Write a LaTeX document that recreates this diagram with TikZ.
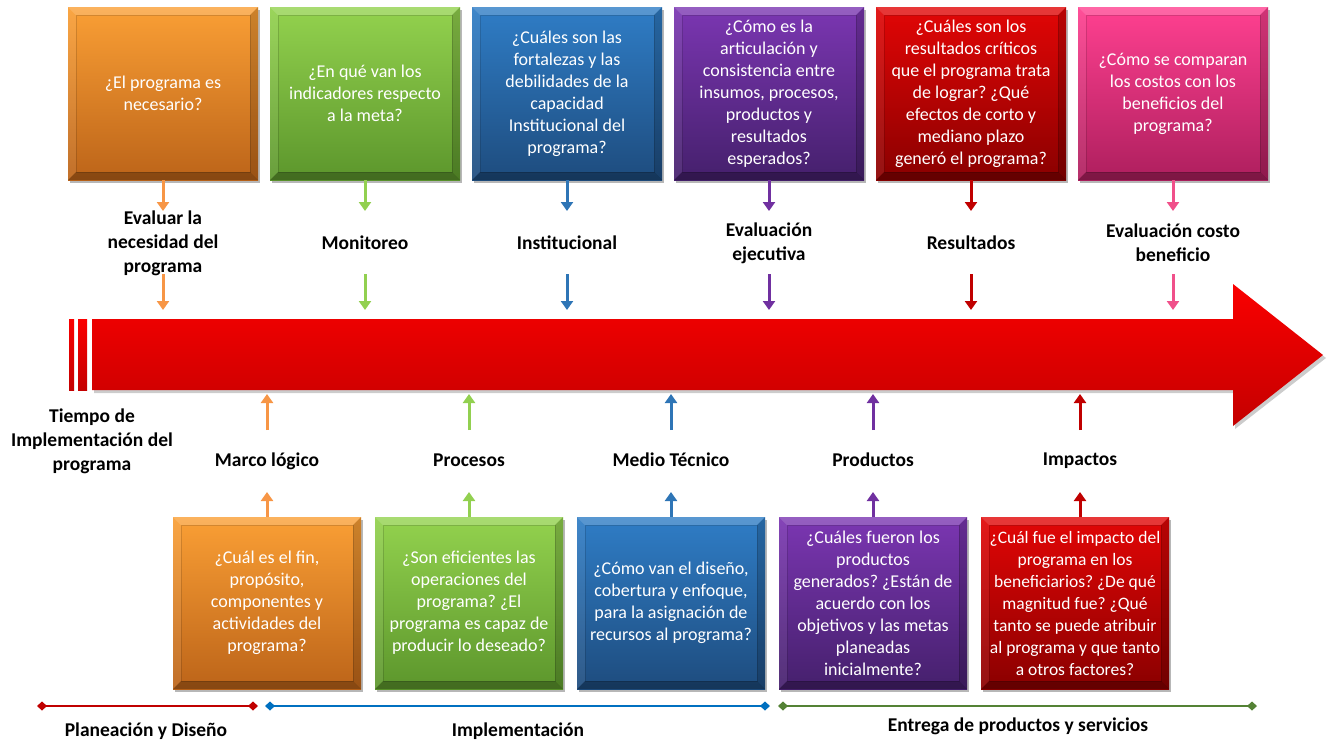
\documentclass[tikz,border=0pt]{standalone}
\usepackage{fontspec}
\setmainfont{Carlito}
\frenchspacing
\usetikzlibrary{arrows.meta,shadows,calc}
\definecolor{orT}{HTML}{FA9F35}\definecolor{orB}{HTML}{BC6419}
\definecolor{grT}{HTML}{93D24E}\definecolor{grB}{HTML}{5C962C}
\definecolor{blT}{HTML}{2F7DC6}\definecolor{blB}{HTML}{1E4C7E}
\definecolor{puT}{HTML}{7B36B2}\definecolor{puB}{HTML}{45206C}
\definecolor{reT}{HTML}{E20606}\definecolor{reB}{HTML}{8A0000}
\definecolor{piT}{HTML}{FF4090}\definecolor{piB}{HTML}{AE1F5E}
\definecolor{orA}{HTML}{F79646}
\definecolor{grA}{HTML}{92D050}
\definecolor{blA}{HTML}{2E75B6}
\definecolor{puA}{HTML}{7030A0}
\definecolor{reA}{HTML}{C00000}
\definecolor{piA}{HTML}{F0508A}
\definecolor{bigT}{HTML}{FA0000}
\definecolor{bigB}{HTML}{C40000}
\definecolor{tlR}{HTML}{C00000}
\definecolor{tlB}{HTML}{0070C0}
\definecolor{tlG}{HTML}{548235}
\tikzset{
  bevel/.style={path picture={
    \fill[white,opacity=0.20] (path picture bounding box.north west) -- (path picture bounding box.north east)
      -- ([shift={(-8pt,-8pt)}]path picture bounding box.north east) -- ([shift={(8pt,-8pt)}]path picture bounding box.north west) -- cycle;
    \fill[white,opacity=0.08] (path picture bounding box.north west) -- (path picture bounding box.south west)
      -- ([shift={(8pt,8pt)}]path picture bounding box.south west) -- ([shift={(8pt,-8pt)}]path picture bounding box.north west) -- cycle;
    \fill[black,opacity=0.28] (path picture bounding box.south west) -- (path picture bounding box.south east)
      -- ([shift={(-8pt,8pt)}]path picture bounding box.south east) -- ([shift={(8pt,8pt)}]path picture bounding box.south west) -- cycle;
    \fill[black,opacity=0.18] (path picture bounding box.north east) -- (path picture bounding box.south east)
      -- ([shift={(-8pt,8pt)}]path picture bounding box.south east) -- ([shift={(-8pt,-8pt)}]path picture bounding box.north east) -- cycle;
    \draw[black,opacity=0.15,line width=0.8pt] ([shift={(8pt,8pt)}]path picture bounding box.south west) rectangle ([shift={(-8pt,-8pt)}]path picture bounding box.north east);
  }},
  qbox/.style={inner sep=0pt, text=white, align=center,
    font=\fontsize{18}{22}\selectfont, bevel,
    drop shadow={shadow xshift=2pt,shadow yshift=-3pt,opacity=0.4,fill=black!70}},
  topbox/.style={qbox, minimum width=190pt, minimum height=173pt},
  botbox/.style={qbox, minimum width=188pt, minimum height=172pt},
  qcol/.style 2 args={top color=#1, bottom color=#2},
  lbl/.style={font=\bfseries\fontsize{19.5}{24}\selectfont, align=center, text=black, inner sep=0pt},
  arr/.style={line width=3pt, draw=#1, -{Triangle[width=12pt,length=9pt,fill=#1]}},
  tline/.style={line width=2.6pt, draw=#1, {Diamond[width=9pt,length=10pt,fill=#1]}-{Diamond[width=9pt,length=10pt,fill=#1]}}
}
\begin{document}
\begin{tikzpicture}[x=1pt,y=-1pt]
\useasboundingbox (0,0) rectangle (1331,740);
% big arrow
\fill[black,opacity=0.2] (94,322) -- (1235,322) -- (1235,287) -- (1326,358) -- (1235,429) -- (1235,393) -- (94,393) -- cycle;
\shade[top color=bigT,bottom color=bigB] (92,319) -- (1233,319) -- (1233,284) -- (1323,355) -- (1233,426) -- (1233,390) -- (92,390) -- cycle;
\shade[top color=bigT,bottom color=bigB] (69,319) rectangle (74,390);
\shade[top color=bigT,bottom color=bigB] (78,319) rectangle (87,390);

% top boxes
\node[topbox,qcol={orT}{orB}] (t1) at (163,93.5) {¿El programa es\\necesario?};
\node[topbox,qcol={grT}{grB}] (t2) at (365,93.5) {¿En qué van los\\indicadores respecto\\a la meta?};
\node[topbox,qcol={blT}{blB}] (t3) at (567,93.5) {¿Cuáles son las\\fortalezas y las\\debilidades de la\\capacidad\\Institucional del\\programa?};
\node[topbox,qcol={puT}{puB}] (t4) at (769,93.5) {¿Cómo es la\\articulación y\\consistencia entre\\insumos, procesos,\\productos y\\resultados\\esperados?};
\node[topbox,qcol={reT}{reB}] (t5) at (971,93.5) {¿Cuáles son los\\resultados críticos\\que el programa trata\\de lograr? ¿Qué\\efectos de corto y\\mediano plazo\\generó el programa?};
\node[topbox,qcol={piT}{piB}] (t6) at (1173,93.5) {¿Cómo se comparan\\los costos con los\\beneficios del\\programa?};

% top labels
\node[lbl] (l1) at (163,243) {Evaluar la\\necesidad del\\programa};
\node[lbl] (l2) at (365,243) {Monitoreo};
\node[lbl] (l3) at (567,243) {Institucional};
\node[lbl] (l4) at (769,243) {Evaluación\\ejecutiva};
\node[lbl] (l5) at (971,243) {Resultados};
\node[lbl] (l6) at (1173,243) {Evaluación costo\\beneficio};

% top arrows
\foreach \i/\x/\c in {1/163/orA,2/365/grA,3/567/blA,4/769/puA,5/971/reA,6/1173/piA}{
  \coordinate (ua\i) at (\x,211);
  \coordinate (ub\i) at (\x,274);
  \coordinate (uc\i) at (\x,310);
  \draw[arr=\c] (t\i.south) -- (ua\i);
  \draw[arr=\c] (ub\i) -- (uc\i);
}

% bottom boxes
\node[botbox,qcol={orT}{orB}] (b1) at (267,603) {¿Cuál es el fin,\\propósito,\\componentes y\\actividades del\\programa?};
\node[botbox,qcol={grT}{grB}] (b2) at (469,603) {¿Son eficientes las\\operaciones del\\programa? ¿El\\programa es capaz de\\producir lo deseado?};
\node[botbox,qcol={blT}{blB}] (b3) at (671,603) {¿Cómo van el diseño,\\cobertura y enfoque,\\para la asignación de\\recursos al programa?};
\node[botbox,qcol={puT}{puB}] (b4) at (873,603) {¿Cuáles fueron los\\productos\\generados? ¿Están de\\acuerdo con los\\objetivos y las metas\\planeadas\\inicialmente?};
\node[botbox,qcol={reT}{reB},font=\fontsize{17.5}{22}\selectfont] (b5) at (1075,603) {¿Cuál fue el impacto del\\programa en los\\beneficiarios? ¿De qué\\magnitud fue? ¿Qué\\tanto se puede atribuir\\al programa y que tanto\\a otros factores?};

% bottom labels
\node[lbl] (m1) at (267,461) {Marco lógico};
\node[lbl] (m2) at (469,460) {Procesos};
\node[lbl] (m3) at (671,460) {Medio Técnico};
\node[lbl] (m4) at (873,460) {Productos};
\node[lbl] (m5) at (1080,461) {Impactos};

% bottom arrows
\foreach \i/\x/\c in {1/267/orA,2/469/grA,3/671/blA,4/873/puA,5/1080/reA}{
  \coordinate (da\i) at (\x,492);
  \coordinate (db\i) at (\x,430);
  \coordinate (dc\i) at (\x,394);
  \draw[arr=\c] (b\i.north -| da\i) -- (da\i);
  \draw[arr=\c] (db\i) -- (dc\i);
}

\node[lbl] (time) at (92,441) {Tiempo de\\Implementación del\\programa};

% phase timeline
\coordinate (p0) at (37,706);
\coordinate (p1) at (258,706);
\coordinate (p2) at (265,706);
\coordinate (p3) at (770,706);
\coordinate (p4) at (778,706);
\coordinate (p5) at (1257,706);
\draw[tline=tlR] (p0) -- (p1);
\draw[tline=tlB] (p2) -- (p3);
\draw[tline=tlG] (p4) -- (p5);
\node[lbl] (ph1) at (146,731) {Planeación y Diseño};
\node[lbl] (ph2) at (518,731) {Implementación};
\node[lbl] (ph3) at (1018,726) {Entrega de productos y servicios};
\end{tikzpicture}
\end{document}
